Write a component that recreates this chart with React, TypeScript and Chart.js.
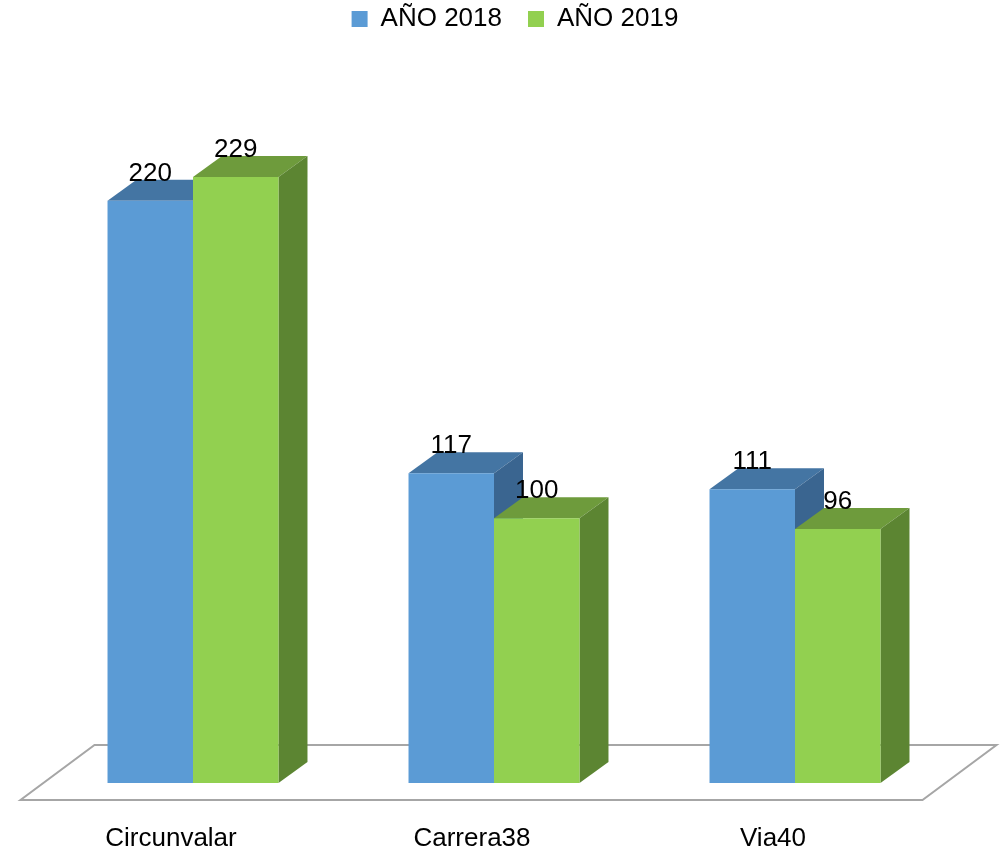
import React, { useEffect, useRef } from 'react';
import { Chart, registerables } from 'chart.js';

Chart.register(...registerables);

const categories = ['Circunvalar', 'Carrera38', 'Via40'];
const series2018 = [220, 117, 111];
const series2019 = [229, 100, 96];
const seriesLabels = ['AÑO 2018', 'AÑO 2019'];
const yMin = 0;
const yMax = 280;

const FONT = "'Liberation Sans', Arial, sans-serif";
const DX = 29;
const DY = 21;
const faceColors = [
  { front: '#5B9BD5', top: '#4475A3', side: '#3A6590' },
  { front: '#92D050', top: '#6E9B3C', side: '#5C8532' },
];

const poly = (ctx: CanvasRenderingContext2D, pts: number[][], color: string) => {
  ctx.beginPath();
  ctx.moveTo(pts[0][0], pts[0][1]);
  for (let i = 1; i < pts.length; i++) ctx.lineTo(pts[i][0], pts[i][1]);
  ctx.closePath();
  ctx.fillStyle = color;
  ctx.fill();
};

const threeD = {
  id: 'threeD',
  beforeDatasetsDraw(chart: any) {
    const { ctx, chartArea } = chart;
    const b = chartArea.bottom;
    ctx.save();
    // floor
    ctx.strokeStyle = '#A6A6A6';
    ctx.lineWidth = 2;
    ctx.beginPath();
    ctx.moveTo(chartArea.left - 22, b + 17);
    ctx.lineTo(chartArea.right - 23, b + 17);
    ctx.lineTo(chartArea.right + 51, b - 38);
    ctx.lineTo(chartArea.left + 52, b - 38);
    ctx.closePath();
    ctx.stroke();
    // top & side faces
    const n = chart.data.labels.length;
    for (let i = 0; i < n; i++) {
      for (let d = 0; d < chart.data.datasets.length; d++) {
        const el: any = chart.getDatasetMeta(d).data[i];
        if (!el) continue;
        const { x, y, base, width } = el.getProps(['x', 'y', 'base', 'width'], true);
        const l = x - width / 2;
        const r = x + width / 2;
        const c = faceColors[d];
        poly(ctx, [[l, y], [r, y], [r + DX, y - DY], [l + DX, y - DY]], c.top);
        poly(ctx, [[r, y], [r + DX, y - DY], [r + DX, base - DY], [r, base]], c.side);
      }
    }
    ctx.restore();
  },
  afterDatasetsDraw(chart: any) {
    const { ctx } = chart;
    ctx.save();
    ctx.font = `26px ${FONT}`;
    ctx.fillStyle = '#000';
    ctx.textAlign = 'center';
    ctx.textBaseline = 'alphabetic';
    chart.data.datasets.forEach((ds: any, d: number) => {
      chart.getDatasetMeta(d).data.forEach((el: any, i: number) => {
        const { x, y } = el.getProps(['x', 'y'], true);
        ctx.fillText(String(ds.data[i]), x, y - DY + 1);
      });
    });
    ctx.restore();
  },
};

export default function App() {
  const ref = useRef<HTMLCanvasElement | null>(null);
  useEffect(() => {
    if (!ref.current) return;
    const chart = new Chart(ref.current, {
      type: 'bar',
      data: {
        labels: categories,
        datasets: [
          {
            label: seriesLabels[0],
            data: series2018,
            backgroundColor: faceColors[0].front,
            borderWidth: 0,
            categoryPercentage: 0.568,
            barPercentage: 1,
          },
          {
            label: seriesLabels[1],
            data: series2019,
            backgroundColor: faceColors[1].front,
            borderWidth: 0,
            categoryPercentage: 0.568,
            barPercentage: 1,
          },
        ],
      },
      options: {
        responsive: false,
        animation: false,
        layout: { padding: { left: 42.5, right: 12.5, top: -20, bottom: 0 } },
        plugins: {
          tooltip: { enabled: false },
          legend: {
            display: true,
            position: 'top',
            labels: {
              boxWidth: 16,
              boxHeight: 16,
              padding: 26,
              color: '#000',
              font: { size: 26, family: FONT },
            },
          },
        },
        scales: {
          x: {
            display: true,
            grid: { display: false, drawTicks: false },
            border: { display: false },
            ticks: {
              color: '#000',
              font: { size: 26, family: FONT },
              padding: 40,
              labelOffset: -22,
              maxRotation: 0,
            },
            afterFit: (s: any) => {
              s.height = 71;
            },
          },
          y: {
            display: false,
            min: yMin,
            max: yMax,
          },
          yR: {
            type: 'linear',
            position: 'right',
            display: true,
            grid: { display: false, drawTicks: false },
            border: { display: false },
            ticks: { display: false },
            afterFit: (s: any) => {
              s.width = 42;
            },
          },
        },
      },
      plugins: [threeD],
    } as any);
    return () => chart.destroy();
  }, []);
  return (
    <div style={{ position: 'absolute', left: 0, top: 0, width: 1000, height: 854, background: '#fff' }}>
      <canvas ref={ref} width={1000} height={854} style={{ display: 'block' }} />
    </div>
  );
}
